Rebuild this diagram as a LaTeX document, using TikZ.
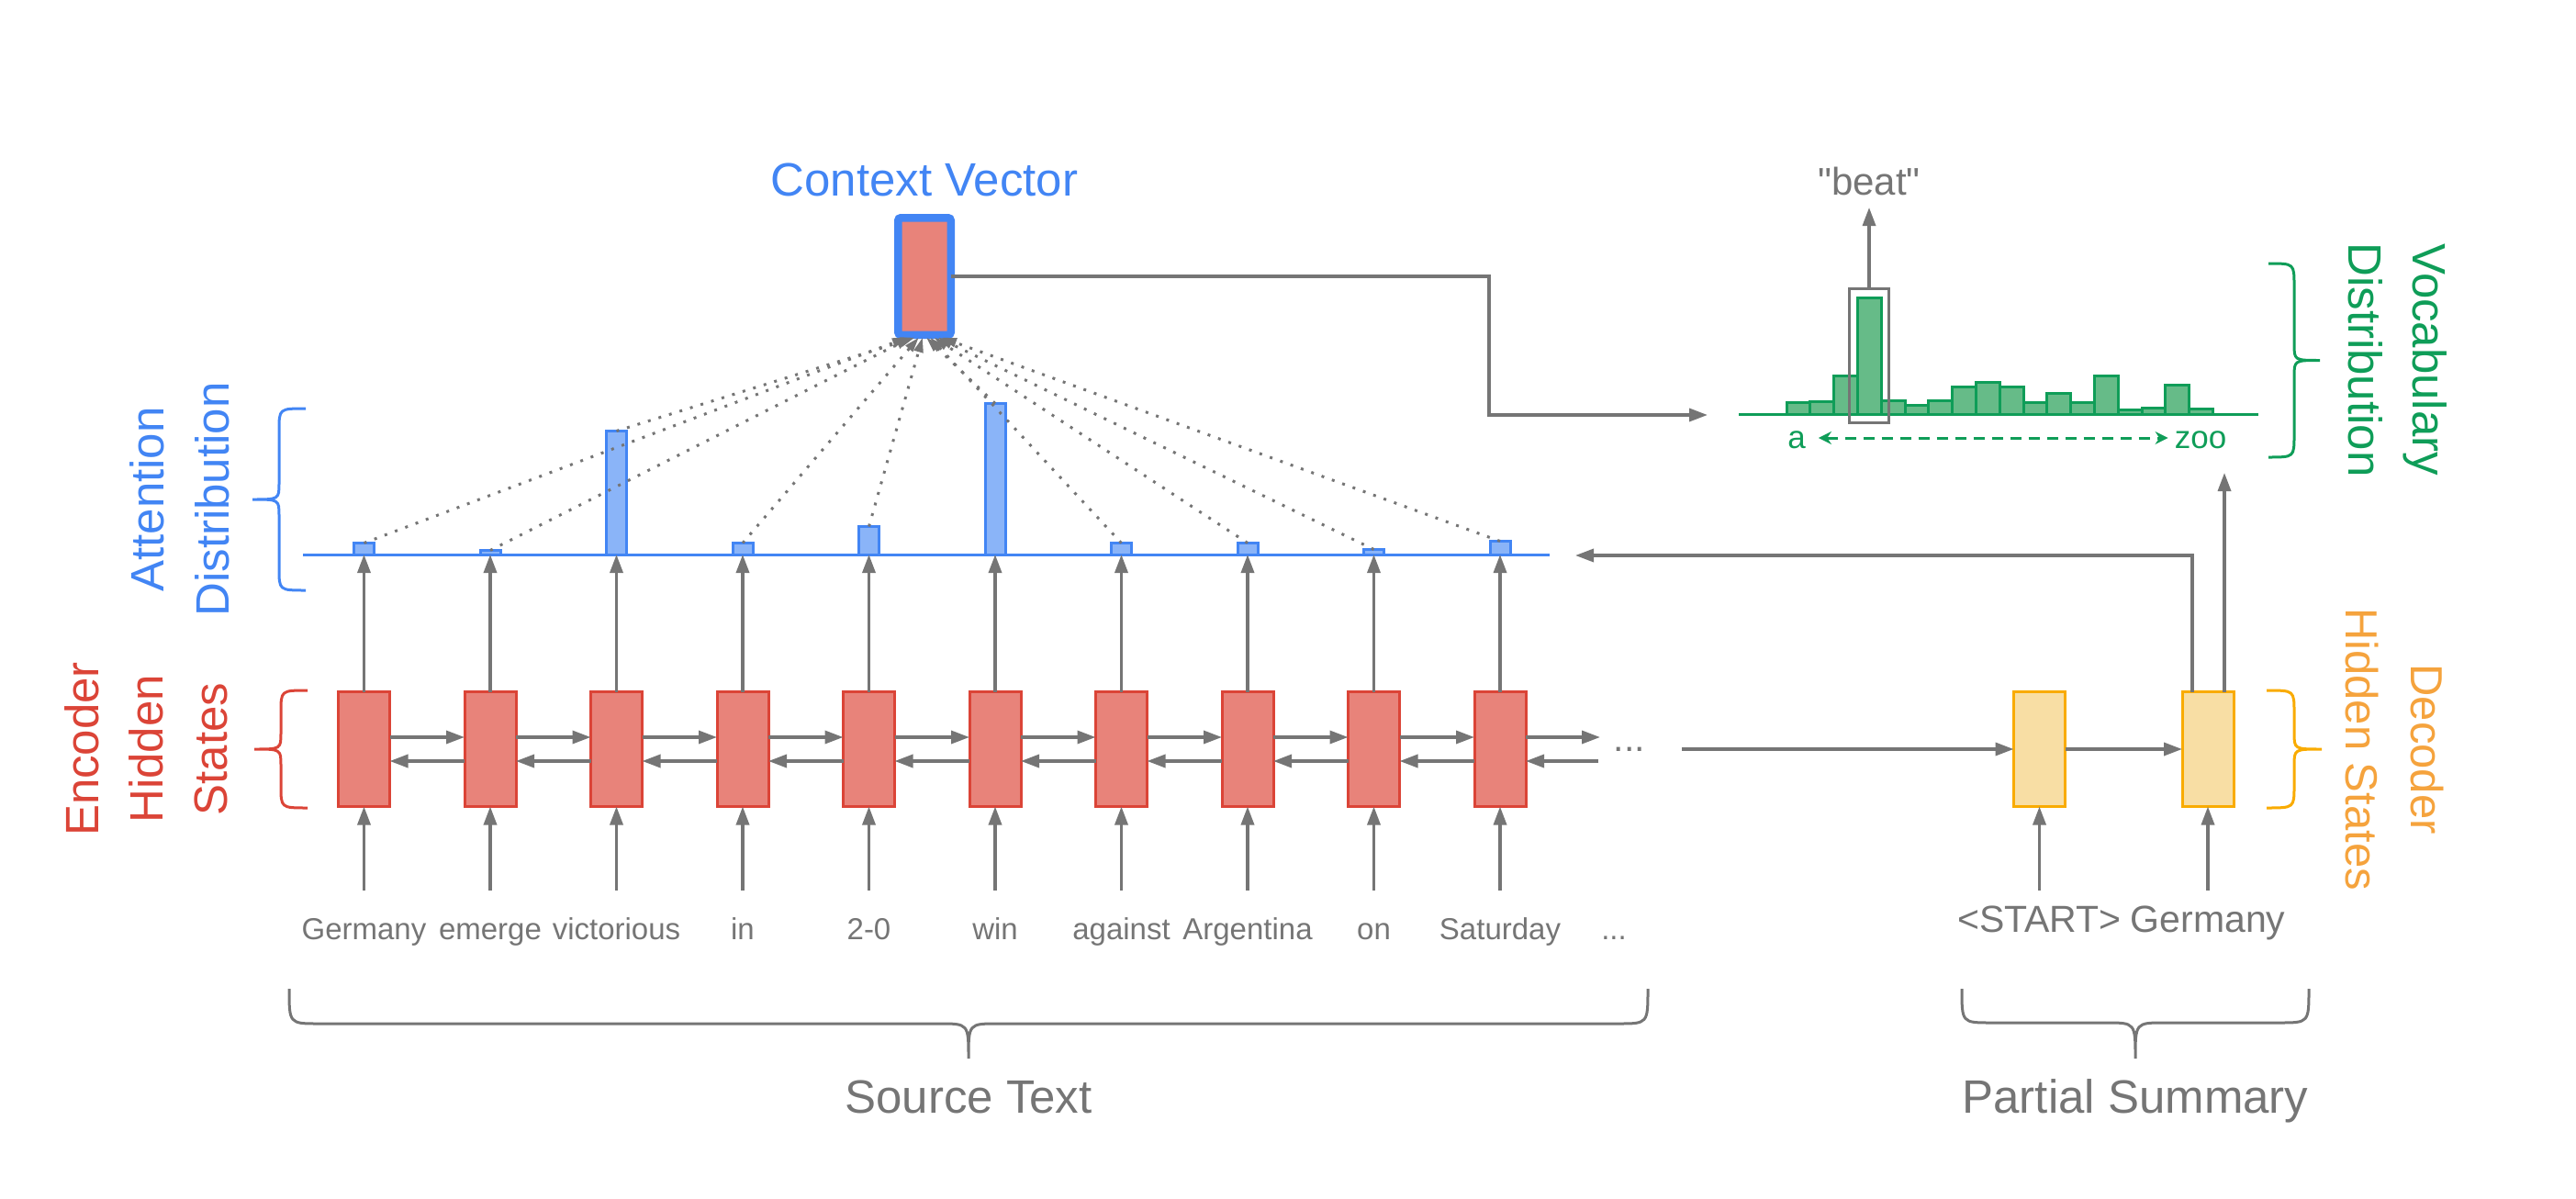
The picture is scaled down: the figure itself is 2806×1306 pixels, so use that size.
\documentclass[tikz,border=0pt]{standalone}
\usepackage{fontspec}
\setmainfont{Liberation Sans}
\newfontfamily\plainsans{Liberation Sans}[Ligatures=TeXOff]
\usetikzlibrary{arrows.meta,calc}
\definecolor{mygray}{HTML}{757575}
\definecolor{encred}{HTML}{DB4437}
\definecolor{encfill}{HTML}{E8837A}
\definecolor{gblue}{HTML}{4285F4}
\definecolor{bfill}{HTML}{8AB4F8}
\definecolor{ggreen}{HTML}{0F9D58}
\definecolor{gfill}{HTML}{66BB88}
\definecolor{decborder}{HTML}{F9AB00}
\definecolor{decfill}{HTML}{F8DEA4}
\definecolor{dectext}{HTML}{F5A33D}
\newcommand{\myvbrace}[6]{%
  \draw[#6] (#1,#4) .. controls (#2,#4) .. (#2,{#4+24})
     -- (#2,{(#4+#5)/2-18}) .. controls (#2,{(#4+#5)/2}) .. (#3,{(#4+#5)/2})
     .. controls (#2,{(#4+#5)/2}) .. (#2,{(#4+#5)/2+18})
     -- (#2,{#5-24}) .. controls (#2,#5) .. (#1,#5);}
\newcommand{\myhbrace}[6]{%
  \draw[mygray, line width=3pt] (#1,#3) .. controls (#1,#4) .. ({#1+32},#4)
     -- ({#6-32},#4) .. controls (#6,#4) .. (#6,#5)
     .. controls (#6,#4) .. ({#6+32},#4)
     -- ({#2-32},#4) .. controls (#2,#4) .. (#2,#3);}
\begin{document}
\begin{tikzpicture}[x=1pt,y=-1pt,
  encbox/.style={draw=encred, fill=encfill, line width=3pt, minimum width=56pt, minimum height=125pt, inner sep=0pt, outer sep=0pt},
  decbox/.style={draw=decborder, fill=decfill, line width=3pt, minimum width=56pt, minimum height=125pt, inner sep=0pt, outer sep=0pt},
  abar/.style={draw=gblue, fill=bfill, line width=3pt, minimum width=22pt, inner sep=0pt, outer sep=0pt, anchor=south},
  vbar/.style={draw=ggreen, fill=gfill, line width=3pt, minimum width=25.8pt, inner sep=0pt, outer sep=0pt, anchor=south},
  word/.style={text=mygray, font=\fontsize{33}{40}\selectfont, anchor=base, inner sep=0pt, text height=25pt, text depth=8pt},
  dword/.style={text=mygray, font=\fontsize{41}{48}\selectfont, anchor=base, inner sep=0pt, text height=30pt, text depth=10pt},
  arr/.style={draw=mygray, line width=3.4pt, -{Triangle[length=20pt,width=14pt]}},
  dotarr/.style={draw=mygray, line width=3pt, dash pattern=on 3pt off 9pt, -{Triangle[length=16pt,width=10pt]}},
  garr/.style={draw=ggreen, line width=3pt, dash pattern=on 12pt off 8pt, {Stealth[length=14pt,width=14pt]}-{Stealth[length=14pt,width=14pt]}},
  biglabel/.style={font=\fontsize{51}{51}\selectfont, anchor=base, inner sep=0pt}
]
\useasboundingbox (0,0) rectangle (2806,1306);

% attention line
\draw[gblue, line width=3pt] (330,604) -- (1688,604);

% encoder boxes and words
\foreach \i/\w in {1/Germany,2/emerge,3/victorious,4/in,5/2-0,6/win,7/against,8/Argentina,9/on,10/Saturday} {
  \pgfmathsetmacro\cx{396.5+137.5*(\i-1)}
  \node[encbox] (e\i) at (\cx,816) {};
  \node[word] (w\i) at (\cx,1023) {\w};
}
\node[word] (w11) at (1758,1023) {...};

% attention bars
\foreach \i/\h in {1/12.5,2/4.5,3/134.5,4/12.5,5/30.5,6/164.5,7/12.5,8/12.5,9/5.5,10/14.5} {
  \pgfmathsetmacro\cx{396.5+137.5*(\i-1)}
  \node[abar, minimum height=\h pt] (a\i) at (\cx,604) {};
}

% arrows
\foreach \i in {1,...,10} {
  \draw[arr] ([yshift=28pt]w\i.north) -- (e\i.south);
  \draw[arr] (e\i.north) -- (a\i.south);
}
\foreach \i [evaluate=\i as \j using int(\i+1)] in {1,...,9} {
  \draw[arr] ([yshift=13pt]e\i.east) -- ([yshift=13pt]e\j.west);
  \draw[arr] ([yshift=-13pt]e\j.west) -- ([yshift=-13pt]e\i.east);
}
\coordinate (eo1) at (1743,803);
\coordinate (eo2) at (1741,829);
\draw[arr] ([yshift=13pt]e10.east) -- (eo1);
\draw[arr] (eo2) -- ([yshift=-13pt]e10.east);
\node[text=mygray, font=\fontsize{41}{41}\selectfont, inner sep=0pt] (edots) at (1775,816) {...};

% context vector
\node[draw=gblue, fill=encfill, line width=8.5pt, minimum width=57.5pt, minimum height=127.5pt, rounded corners=3pt, inner sep=0pt, outer sep=0pt] (cv) at (1007,301) {};
\node[biglabel, text=gblue] (cvlabel) at (1007,213) {Context Vector};
\foreach \i in {1,...,10} {
  \pgfmathsetmacro\dx{-19+38*(\i-1)/9}
  \draw[dotarr] (a\i.north) -- ([xshift=\dx pt, yshift=-3pt]cv.south);
}

% decoder
\node[decbox] (d1) at (2221.5,816) {};
\node[decbox] (d2) at (2405,816) {};
\node[dword] (s1) at (2221.5,1015) {<START>};
\node[dword] (s2) at (2405,1015) {Germany};
\draw[arr] ([yshift=15pt]s1.north) -- (d1.south);
\draw[arr] ([yshift=15pt]s2.north) -- (d2.south);
\draw[arr] ([xshift=40pt]edots.east) -- (d1.west);
\draw[arr] (d1.east) -- (d2.west);
\coordinate (attin) at (1716,605);
\draw[arr] ([xshift=-17pt]d2.north) |- (attin);
\coordinate (vocup) at (2423,515);
\draw[arr] ([xshift=18pt]d2.north) -- (vocup);

% vocabulary distribution
\coordinate (vocin) at (1860,452);
\draw[arr] (cv.east) -| ([xshift=-238pt]vocin) -- (vocin);
\draw[ggreen, line width=3pt] (1894,451) -- (2460,451);
\foreach \i/\h in {1/12.2,2/13.8,3/41.8,4/126.2,5/14.5,6/9.5,7/14.5,8/29.5,9/34.5,10/29.5,11/12.2,12/22.2,13/12.2,14/41.2,15/4.8,16/6.2,17/31.8,18/5.5} {
  \pgfmathsetmacro\cx{1958.9+25.8*(\i-1)}
  \node[vbar, minimum height=\h pt] (v\i) at (\cx,451) {};
}
\node[draw=mygray, line width=3pt, minimum width=42.5pt, minimum height=146pt, inner sep=0pt, outer sep=0pt] (beatbox) at (2036,387.5) {};
\node[text=mygray, font={\plainsans\fontsize{42}{42}\selectfont}, anchor=base, inner sep=0pt] (beat) at (2036,212) {"beat"};
\draw[arr] (beatbox.north) -- ([yshift=-14pt]beat.base);
\node[text=ggreen, font=\fontsize{35}{35}\selectfont, inner sep=0pt, anchor=base] (va) at (1957,488) {a};
\node[text=ggreen, font=\fontsize{35}{35}\selectfont, inner sep=0pt, anchor=base] (vzoo) at (2397,488) {zoo};
\draw[garr] ([xshift=14pt,yshift=11pt]va.base east) -- ([xshift=-7pt,yshift=11pt]vzoo.base west);

% side labels
\node[text=gblue, rotate=90, align=center, font=\fontsize{51}{71}\selectfont] (attlabel) at (195.5,544) {Attention\\Distribution};
\node[text=encred, rotate=90, align=center, font=\fontsize{51}{70}\selectfont] (enclabel) at (159,816) {Encoder\\Hidden\\States};
\node[text=ggreen, rotate=-90, align=center, font=\fontsize{51}{70}\selectfont] (voclabel) at (2612,392) {Vocabulary\\Distribution};
\node[text=dectext, rotate=-90, align=center, font=\fontsize{49}{71}\selectfont] (declabel) at (2608,816) {Decoder\\Hidden States};

% braces
\myvbrace{333}{304}{275}{445}{643}{gblue, line width=3pt}
\myvbrace{335}{306}{277}{752}{880}{encred, line width=3pt}
\myvbrace{2471}{2499}{2527}{287}{498}{ggreen, line width=3pt}
\myvbrace{2469}{2499}{2529}{752}{880}{decborder, line width=3pt}
\myhbrace{315}{1795}{1077}{1115}{1153}{1055}
\myhbrace{2137}{2515}{1077}{1114}{1153}{2326}

% bottom labels
\node[biglabel, text=mygray] (srclabel) at (1055,1212) {Source Text};
\node[biglabel, text=mygray] (sumlabel) at (2326,1212) {Partial Summary};
\end{tikzpicture}
\end{document}
